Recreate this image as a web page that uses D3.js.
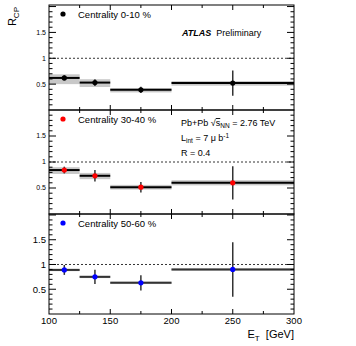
<!DOCTYPE html>
<html>
<head>
<meta charset="utf-8">
<script src="https://cdn.jsdelivr.net/npm/d3@7"></script>
<style>
  body { margin: 0; background: #fff; }
  svg { display: block; font-family: "Liberation Sans", Arial, Helvetica, sans-serif; }
</style>
</head>
<body>
<svg id="chart" width="356" height="346"></svg>
<script>
// E_T bins [GeV]
const binLo = [100, 125, 150, 200];
const binHi = [125, 150, 200, 300];
const binMid = [112.5, 137.5, 175, 250];

// centrality 0-10 %
const rcp0010 = [0.62, 0.53, 0.39, 0.52];
const stat0010 = [0.05, 0.065, 0.06, 0.245];
const systLo0010 = [0.50, 0.445, 0.34, 0.47];
const systHi0010 = [0.69, 0.595, 0.42, 0.56];

// centrality 30-40 %
const rcp3040 = [0.845, 0.735, 0.515, 0.60];
const stat3040 = [0.065, 0.11, 0.10, 0.32];
const systLo3040 = [0.77, 0.67, 0.47, 0.55];
const systHi3040 = [0.90, 0.79, 0.56, 0.65];

// centrality 50-60 %
const rcp5060 = [0.89, 0.75, 0.63, 0.90];
const stat5060 = [0.10, 0.145, 0.155, 0.55];
const systLo5060 = [0.865, 0.725, 0.605, 0.875];
const systHi5060 = [0.915, 0.775, 0.655, 0.925];

const xTicks = [100, 150, 200, 250, 300];
const yTickLabels = [0.5, 1, 1.5];

const svg = d3.select("#chart");
const x = d3.scaleLinear().domain([100, 300]).range([49, 294]);

const panels = [
    { label: "Centrality  0-10 %", color: "#000", rcp: rcp0010, stat: stat0010, lo: systLo0010, hi: systHi0010,
      top: 5, bottom: 110, ymax: 2.03, lab: 7, barColor: "#000" },
    { label: "Centrality 30-40 %", color: "#ff0000", rcp: rcp3040, stat: stat3040, lo: systLo3040, hi: systHi3040,
      top: 110, bottom: 214, ymax: 2.0, lab: 7, barColor: "#000" },
    { label: "Centrality 50-60 %", color: "#0000ff", rcp: rcp5060, stat: stat5060, lo: systLo5060, hi: systHi5060,
      top: 214, bottom: 314, ymax: 2.02, lab: 9.5, barColor: "#333" }
];

panels.forEach((p, i) => {
    const y = d3.scaleLinear().domain([0, p.ymax]).range([p.bottom, p.top]);
    const g = svg.append("g");
    const bins = d3.range(binLo.length);

    // systematic bands
    g.selectAll("rect.syst")
        .data(bins)
        .enter().append("rect")
        .attr("class", "syst")
        .attr("x", k => x(binLo[k]))
        .attr("width", k => x(binHi[k]) - x(binLo[k]))
        .attr("y", k => y(p.hi[k]))
        .attr("height", k => y(p.lo[k]) - y(p.hi[k]))
        .style("fill", "#c8c8c8");

    // dashed line at 1
    g.append("line")
        .attr("x1", x(100)).attr("x2", x(300))
        .attr("y1", y(1)).attr("y2", y(1))
        .style("stroke", "#000")
        .style("stroke-width", 0.8)
        .style("stroke-dasharray", "2,2");

    // horizontal bin widths
    g.selectAll("line.bin")
        .data(bins)
        .enter().append("line")
        .attr("class", "bin")
        .attr("x1", k => x(binLo[k]))
        .attr("x2", k => x(binHi[k]))
        .attr("y1", k => y(p.rcp[k]))
        .attr("y2", k => y(p.rcp[k]))
        .style("stroke", p.barColor)
        .style("stroke-width", 2);

    // stat errors
    g.selectAll("line.stat")
        .data(bins)
        .enter().append("line")
        .attr("class", "stat")
        .attr("x1", k => x(binMid[k]))
        .attr("x2", k => x(binMid[k]))
        .attr("y1", k => y(p.rcp[k] - p.stat[k]))
        .attr("y2", k => y(p.rcp[k] + p.stat[k]))
        .style("stroke", "#333")
        .style("stroke-width", 1.5);

    g.selectAll("circle.pt")
        .data(bins)
        .enter().append("circle")
        .attr("class", "pt")
        .attr("cx", k => x(binMid[k]))
        .attr("cy", k => y(p.rcp[k]))
        .attr("r", 2.6)
        .style("fill", p.color);

    // frame
    g.append("rect")
        .attr("x", x(100)).attr("y", p.top)
        .attr("width", x(300) - x(100)).attr("height", p.bottom - p.top)
        .style("fill", "none")
        .style("stroke", "#000")
        .style("stroke-width", 1);

    // y ticks (left and right)
    const minor = d3.range(0.1, p.ymax, 0.1).map(v => Math.round(v * 10) / 10);
    minor.forEach(v => {
        const major = Math.abs(v * 2 - Math.round(v * 2)) < 1e-6;
        const len = major ? 7 : 3.5;
        g.append("line")
            .attr("x1", x(100)).attr("x2", x(100) + len)
            .attr("y1", y(v)).attr("y2", y(v))
            .style("stroke", "#000").style("stroke-width", 1);
        g.append("line")
            .attr("x1", x(300)).attr("x2", x(300) - len)
            .attr("y1", y(v)).attr("y2", y(v))
            .style("stroke", "#000").style("stroke-width", 1);
    });

    g.selectAll("text.ylab")
        .data(yTickLabels)
        .enter().append("text")
        .attr("class", "ylab")
        .attr("x", x(100) - 3)
        .attr("y", v => y(v))
        .attr("dy", "0.35em")
        .attr("text-anchor", "end")
        .style("font-size", p.lab + "px")
        .text(v => v);

    // x ticks on top and bottom of each panel
    d3.range(125, 300, 25).forEach(v => {
        const len = v % 50 === 0 ? 5 : 3;
        g.append("line")
            .attr("x1", x(v)).attr("x2", x(v))
            .attr("y1", p.bottom).attr("y2", p.bottom - len)
            .style("stroke", "#000").style("stroke-width", 1);
        g.append("line")
            .attr("x1", x(v)).attr("x2", x(v))
            .attr("y1", p.top).attr("y2", p.top + len)
            .style("stroke", "#000").style("stroke-width", 1);
    });

    // legend
    g.append("circle")
        .attr("cx", 63).attr("cy", p.top + 9)
        .attr("r", 2.6)
        .style("fill", p.color);
    g.append("text")
        .attr("x", 78).attr("y", p.top + 12.5)
        .style("font-size", "9.5px")
        .text(p.label);
});

// x tick labels
svg.selectAll("text.xlab")
    .data(xTicks)
    .enter().append("text")
    .attr("class", "xlab")
    .attr("x", d => x(d))
    .attr("y", 324)
    .attr("text-anchor", "middle")
    .style("font-size", "9.5px")
    .text(d => d);

// axis titles
const xt = svg.append("text")
    .attr("x", 294).attr("y", 338)
    .attr("text-anchor", "end")
    .style("font-size", "11px");
xt.append("tspan").text("E");
xt.append("tspan").attr("dy", 3).style("font-size", "8px").text("T");
xt.append("tspan").attr("dy", -3).text("  [GeV]").attr("xml:space", "preserve");

const yt = svg.append("text")
    .attr("transform", "translate(16,7) rotate(-90)")
    .attr("text-anchor", "end")
    .style("font-size", "11px");
yt.append("tspan").text("R");
yt.append("tspan").attr("dy", 3).style("font-size", "8px").text("CP");

// ATLAS label
const atlas = svg.append("text")
    .attr("x", 182).attr("y", 36)
    .style("font-size", "9px");
atlas.append("tspan").style("font-weight", "bold").style("font-style", "italic").text("ATLAS");
atlas.append("tspan").attr("dx", 5).text("Preliminary");

// run info
const info = svg.append("g").style("font-size", "9px");
const l1 = info.append("text").attr("x", 181).attr("y", 126);
l1.append("tspan").text("Pb+Pb ");
l1.append("tspan").text("\u221A");
l1.append("tspan").style("text-decoration", "overline").text("s");
l1.append("tspan").attr("dy", 2).style("font-size", "6.5px").text("NN");
l1.append("tspan").attr("dy", -2).text(" = 2.76 TeV");

const l2 = info.append("text").attr("x", 181).attr("y", 141);
l2.append("tspan").text("L");
l2.append("tspan").attr("dy", 2).style("font-size", "6.5px").text("int");
l2.append("tspan").attr("dy", -2).text(" = 7 \u03BC b");
l2.append("tspan").attr("dy", -3).style("font-size", "6.5px").text("-1");

info.append("text").attr("x", 181).attr("y", 156).text("R = 0.4");
</script>
</body>
</html>
